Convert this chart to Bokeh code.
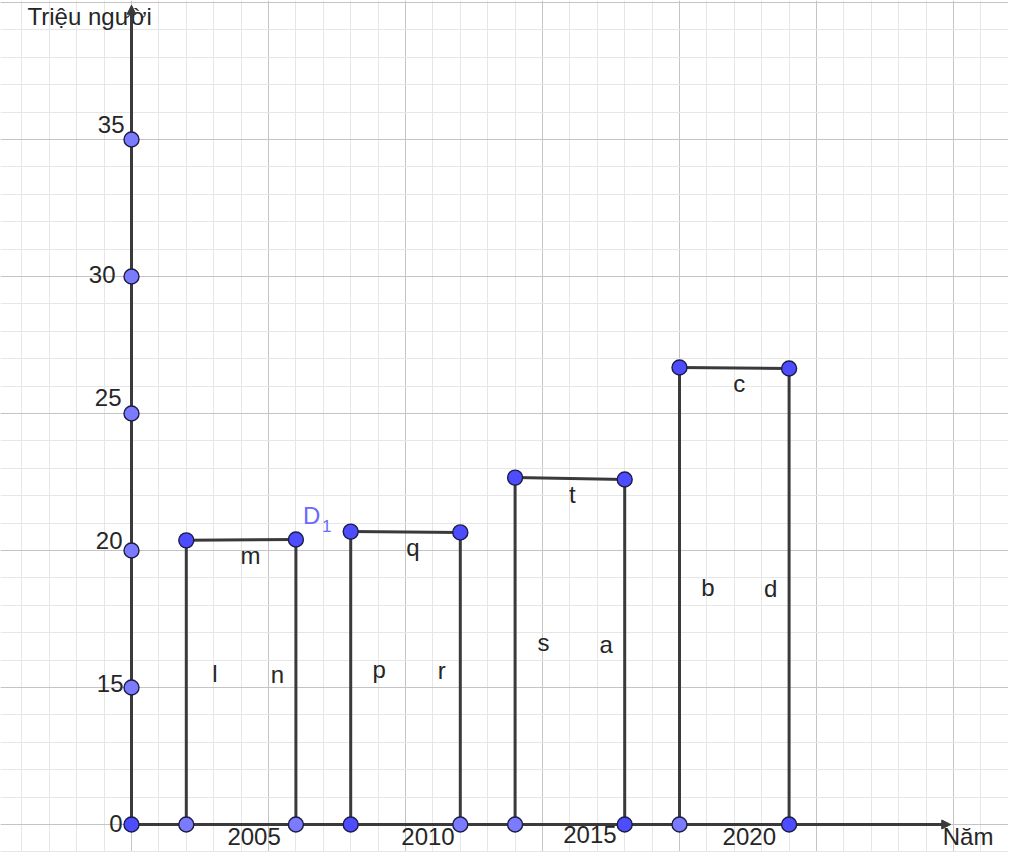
from bokeh.plotting import figure
from bokeh.models import Range1d, SingleIntervalTicker, Grid, Arrow, NormalHead, ColumnDataSource
from bokeh.embed import file_html
from bokeh.resources import INLINE
from bokeh.core.properties import value

# ---------------- data ----------------
years = ["2005", "2010", "2015", "2020"]
top_left = [20.37, 20.69, 22.66, 26.68]    # triệu người, left corner of each bar
top_right = [20.40, 20.66, 22.59, 26.64]   # triệu người, right corner of each bar
y_ticks = [0, 15, 20, 25, 30, 35]
y_tick_labels = ["0", "15", "20", "25", "30", "35"]
left_names = ["l", "p", "s", "b"]
top_names = ["m", "q", "t", "c"]
right_names = ["n", "r", "a", "d"]
x_axis_name = "Năm"
y_axis_name = "Triệu người"
corner_name = ("D", "1")

# ---------------- layout / style ----------------
PX = 27.4              # pixels per data unit
BAR_W = 4              # bar width in grid units
BAR_STEP = 6           # distance between bars
BAR_START = 2
AXIS_LEN = 29.9
FONT = value("Liberation Sans")
FS = "24px"
TXT = "#262626"
LINE = "#3a3a3a"
DARK = "#4d4dff"
LIGHT = "#7b7bff"
OUTLINE = "#1c1c44"
TEXT_FIX = 9           # px: lift text baselines to compensate renderer placement


def ypos(v):
    # broken value axis: 0..15 compressed into one major cell, then 1 unit per million
    return v / 3.0 if v <= 15 else v - 10.0


p = figure(width=1008, height=852,
           x_range=Range1d((8 - 139) / PX, (1016 - 139) / PX),
           y_range=Range1d((832 - 860) / PX, (832 - 8) / PX),
           x_axis_type=None, y_axis_type=None,
           output_backend="svg", toolbar_location=None, min_border=0)
p.outline_line_color = None
p.background_fill_color = "white"

for dim in (0, 1):
    p.add_layout(Grid(dimension=dim,
                      ticker=SingleIntervalTicker(interval=5, num_minor_ticks=5),
                      grid_line_color="#c4c4c4", grid_line_width=1,
                      minor_grid_line_color="#e6e6e6", minor_grid_line_width=1), "center")

# axes with arrowheads
p.segment(x0=[0, 0], y0=[0, 0], x1=[AXIS_LEN - 0.2, 0], y1=[0, AXIS_LEN - 0.2],
          line_color=LINE, line_width=3)
for (xs, ys, xe, ye) in [(AXIS_LEN - 0.6, 0, AXIS_LEN, 0), (0, AXIS_LEN - 0.6, 0, AXIS_LEN)]:
    p.add_layout(Arrow(end=NormalHead(size=9, fill_color=LINE, line_color=LINE, line_width=1),
                       x_start=xs, y_start=ys, x_end=xe, y_end=ye,
                       line_color=LINE, line_width=3))

# bars
xl = [BAR_START + BAR_STEP * i for i in range(len(years))]
xr = [x + BAR_W for x in xl]
tl = [ypos(v) for v in top_left]
tr = [ypos(v) for v in top_right]
p.segment(x0=xl, y0=[0] * len(xl), x1=xl, y1=tl, line_color=LINE, line_width=3)
p.segment(x0=xr, y0=[0] * len(xr), x1=xr, y1=tr, line_color=LINE, line_width=3)
p.segment(x0=xl, y0=tl, x1=xr, y1=tr, line_color=LINE, line_width=3)

# points
base_left_col = [LIGHT, DARK, LIGHT, LIGHT]
base_right_col = [LIGHT, LIGHT, DARK, DARK]
px_ = [0] * (len(y_ticks) - 1) + xl + xr + xl + xr + [0]
py_ = [ypos(v) for v in y_ticks[1:]] + [0] * 8 + tl + tr + [0]
pc_ = [LIGHT] * (len(y_ticks) - 1) + base_left_col + base_right_col + [DARK] * 8 + [DARK]
p.scatter(x=px_, y=py_, size=15, fill_color=pc_, line_color=OUTLINE, line_width=1.4)


def add_text(xs, ys, texts, align, color=TXT, size=FS):
    src = ColumnDataSource(dict(x=xs, y=[y + TEXT_FIX / PX for y in ys], t=texts))
    p.text(x="x", y="y", text="t", source=src, text_align=align, text_baseline="alphabetic",
           text_font=FONT, text_font_size=size, text_color=color)


# y tick labels (pixel offsets of each label relative to its point)
ytick_dx = [-9, -8, -9, -10, -16, -7]
ytick_dy = [8, 5, -1, -7, 7, -6]
add_text([dx / PX for dx in ytick_dx],
         [ypos(v) - dy / PX for v, dy in zip(y_ticks, ytick_dy)],
         y_tick_labels, "right")

# year labels
year_dx = [13, 22.5, 20, 15]
year_dy = [21, 21, 19, 21]
add_text([(a + b) / 2 + dx / PX for a, b, dx in zip(xl, xr, year_dx)],
         [-dy / PX for dy in year_dy], years, "center")

# segment labels
top_dx = [9.5, 7.5, 2.5, 5]
add_text([(a + b) / 2 + dx / PX for a, b, dx in zip(xl, xr, top_dx)],
         [(u + w) / 2 - 24.5 / PX for u, w in zip(tl, tr)], top_names, "center")
add_text([a + 28.5 / PX for a in xl], [t / 2 - 0.5 / PX for t in tl], left_names, "center")
add_text([b - 18.5 / PX for b in xr], [t / 2 - 1.0 / PX for t in tr], right_names, "center")

# axis names
add_text([-104 / PX], [AXIS_LEN - 20 / PX], [y_axis_name], "left")
add_text([AXIS_LEN - 8 / PX], [-21 / PX], [x_axis_name], "left")

# D1 label near the right top corner of the first bar
add_text([xr[0] + 7 / PX], [tr[0] + 15 / PX], [corner_name[0]], "left", color="#6a6aff")
add_text([xr[0] + 26 / PX], [tr[0] + 5 / PX], [corner_name[1]], "left", color="#6a6aff", size="17px")

open("out.html", "w").write(file_html(p, INLINE))
